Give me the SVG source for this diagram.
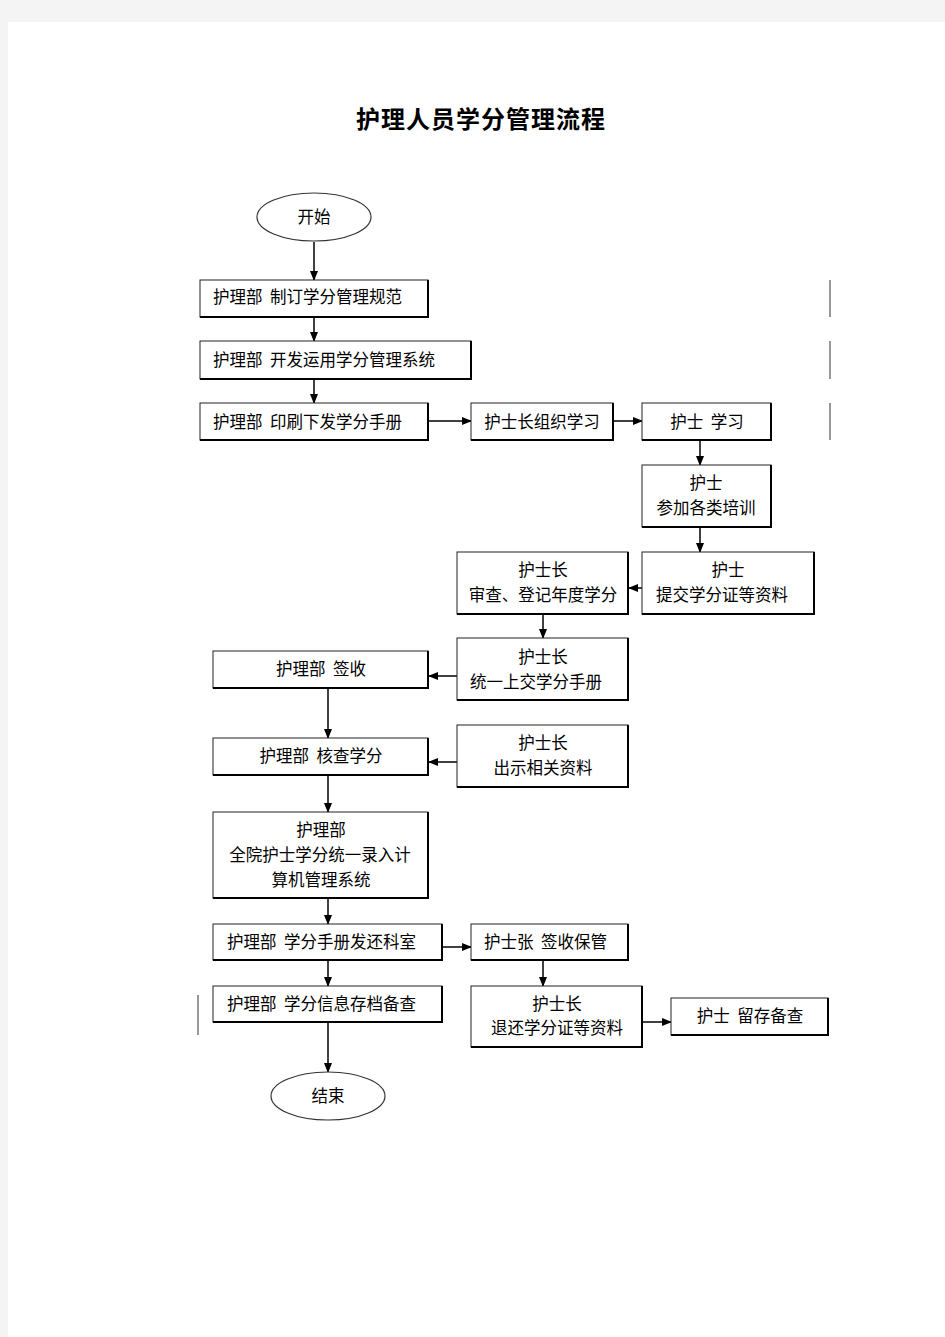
<svg xmlns="http://www.w3.org/2000/svg" width="945" height="1337" viewBox="0 0 945 1337">
<style>
.bx{fill:#fff;stroke:#222;stroke-width:1}
.sh{fill:none;stroke:#000;stroke-width:2}
.t{font-family:"Noto Sans CJK SC","Liberation Sans",sans-serif;font-size:16.5px;fill:#000}
.c{text-anchor:middle}
.ln{fill:none;stroke:#000;stroke-width:1.5}
.el{fill:#fff;stroke:#333;stroke-width:1.2}
.gl{stroke:#777;stroke-width:1.5}
</style>
<defs>
<marker id="ah" markerWidth="10" markerHeight="10" refX="9" refY="5" orient="auto" markerUnits="userSpaceOnUse">
<path d="M0,1 L10,5 L0,9 Z" fill="#000"/>
</marker>
</defs>
<rect x="0" y="0" width="945" height="1337" fill="#f4f4f4"/>
<rect x="8" y="22" width="937" height="1315" fill="#fff"/>
<text x="481" y="128" class="c" style="font-family:'Noto Sans CJK SC',sans-serif;font-size:24px;font-weight:600;letter-spacing:1px">护理人员学分管理流程</text>
<g id="sidelines">
<line x1="830" y1="280" x2="830" y2="317" class="gl"/>
<line x1="830" y1="341" x2="830" y2="379" class="gl"/>
<line x1="830" y1="403" x2="830" y2="440" class="gl"/>
<line x1="198" y1="995" x2="198" y2="1035" class="gl"/>
</g>
<g id="connectors">
<line x1="314" y1="242" x2="314" y2="280" class="ln" marker-end="url(#ah)"/>
<line x1="314" y1="317" x2="314" y2="341" class="ln" marker-end="url(#ah)"/>
<line x1="314" y1="379" x2="314" y2="403" class="ln" marker-end="url(#ah)"/>
<line x1="429" y1="421" x2="471" y2="421" class="ln" marker-end="url(#ah)"/>
<line x1="614" y1="421" x2="642" y2="421" class="ln" marker-end="url(#ah)"/>
<line x1="700" y1="441" x2="700" y2="465" class="ln" marker-end="url(#ah)"/>
<line x1="700" y1="528" x2="700" y2="552" class="ln" marker-end="url(#ah)"/>
<line x1="642" y1="588" x2="629" y2="588" class="ln" marker-end="url(#ah)"/>
<line x1="543" y1="615" x2="543" y2="638" class="ln" marker-end="url(#ah)"/>
<line x1="457" y1="676" x2="429" y2="676" class="ln" marker-end="url(#ah)"/>
<line x1="328" y1="689" x2="328" y2="738" class="ln" marker-end="url(#ah)"/>
<line x1="457" y1="762" x2="429" y2="762" class="ln" marker-end="url(#ah)"/>
<line x1="328" y1="776" x2="328" y2="812" class="ln" marker-end="url(#ah)"/>
<line x1="328" y1="899" x2="328" y2="924" class="ln" marker-end="url(#ah)"/>
<line x1="443" y1="947" x2="471" y2="947" class="ln" marker-end="url(#ah)"/>
<line x1="328" y1="961" x2="328" y2="986" class="ln" marker-end="url(#ah)"/>
<line x1="543" y1="961" x2="543" y2="986" class="ln" marker-end="url(#ah)"/>
<line x1="643" y1="1022" x2="671" y2="1022" class="ln" marker-end="url(#ah)"/>
<line x1="328" y1="1023" x2="328" y2="1072" class="ln" marker-end="url(#ah)"/>
</g>
<g id="start">
<ellipse cx="314" cy="217" rx="57" ry="24" class="el"/>
<text x="314" y="223" class="t c">开始</text>
</g>
<g id="n1">
<rect x="200" y="280" width="228" height="37" class="bx"/>
<path d="M428,280 V317 H200" class="sh"/>
<text x="213" y="303" class="t" xml:space="preserve">护理部  制订学分管理规范</text>
</g>
<g id="n2">
<rect x="200" y="341" width="271" height="38" class="bx"/>
<path d="M471,341 V379 H200" class="sh"/>
<text x="213" y="366" class="t" xml:space="preserve">护理部  开发运用学分管理系统</text>
</g>
<g id="n3">
<rect x="200" y="403" width="228" height="37" class="bx"/>
<path d="M428,403 V440 H200" class="sh"/>
<text x="213" y="428" class="t" xml:space="preserve">护理部  印刷下发学分手册</text>
</g>
<g id="n4">
<rect x="471" y="403" width="142" height="37" class="bx"/>
<path d="M613,403 V440 H471" class="sh"/>
<text x="542" y="428" class="t c">护士长组织学习</text>
</g>
<g id="n5">
<rect x="642" y="403" width="129" height="37" class="bx"/>
<path d="M771,403 V440 H642" class="sh"/>
<text x="707" y="428" class="t c" xml:space="preserve">护士  学习</text>
</g>
<g id="n6">
<rect x="642" y="465" width="129" height="62" class="bx"/>
<path d="M771,465 V527 H642" class="sh"/>
<text x="706" y="489" class="t c">护士</text>
<text x="706" y="514" class="t c">参加各类培训</text>
</g>
<g id="n7">
<rect x="642" y="552" width="172" height="62" class="bx"/>
<path d="M814,552 V614 H642" class="sh"/>
<text x="728" y="576" class="t c">护士</text>
<text x="722" y="601" class="t c">提交学分证等资料</text>
</g>
<g id="n8">
<rect x="457" y="552" width="171" height="62" class="bx"/>
<path d="M628,552 V614 H457" class="sh"/>
<text x="543" y="576" class="t c">护士长</text>
<text x="543" y="601" class="t c">审查、登记年度学分</text>
</g>
<g id="n9">
<rect x="457" y="638" width="171" height="62" class="bx"/>
<path d="M628,638 V700 H457" class="sh"/>
<text x="543" y="663" class="t c">护士长</text>
<text x="536" y="688" class="t c">统一上交学分手册</text>
</g>
<g id="n10">
<rect x="213" y="651" width="215" height="37" class="bx"/>
<path d="M428,651 V688 H213" class="sh"/>
<text x="321" y="675" class="t c" xml:space="preserve">护理部  签收</text>
</g>
<g id="n11">
<rect x="213" y="738" width="215" height="37" class="bx"/>
<path d="M428,738 V775 H213" class="sh"/>
<text x="321" y="762" class="t c" xml:space="preserve">护理部  核查学分</text>
</g>
<g id="n12">
<rect x="457" y="725" width="171" height="62" class="bx"/>
<path d="M628,725 V787 H457" class="sh"/>
<text x="543" y="749" class="t c">护士长</text>
<text x="543" y="774" class="t c">出示相关资料</text>
</g>
<g id="n13">
<rect x="213" y="812" width="215" height="86" class="bx"/>
<path d="M428,812 V898 H213" class="sh"/>
<text x="321" y="836" class="t c">护理部</text>
<text x="320" y="861" class="t c">全院护士学分统一录入计</text>
<text x="321" y="886" class="t c">算机管理系统</text>
</g>
<g id="n14">
<rect x="213" y="924" width="229" height="36" class="bx"/>
<path d="M442,924 V960 H213" class="sh"/>
<text x="227" y="948" class="t" xml:space="preserve">护理部  学分手册发还科室</text>
</g>
<g id="n15">
<rect x="471" y="924" width="157" height="36" class="bx"/>
<path d="M628,924 V960 H471" class="sh"/>
<text x="484" y="948" class="t" xml:space="preserve">护士张  签收保管</text>
</g>
<g id="n16">
<rect x="213" y="986" width="229" height="36" class="bx"/>
<path d="M442,986 V1022 H213" class="sh"/>
<text x="227" y="1010" class="t" xml:space="preserve">护理部  学分信息存档备查</text>
</g>
<g id="n17">
<rect x="471" y="986" width="171" height="61" class="bx"/>
<path d="M642,986 V1047 H471" class="sh"/>
<text x="557" y="1010" class="t c">护士长</text>
<text x="557" y="1034" class="t c">退还学分证等资料</text>
</g>
<g id="n18">
<rect x="671" y="998" width="157" height="37" class="bx"/>
<path d="M828,998 V1035 H671" class="sh"/>
<text x="750" y="1022" class="t c" xml:space="preserve">护士  留存备查</text>
</g>
<g id="end">
<ellipse cx="328" cy="1096" rx="57" ry="24" class="el"/>
<text x="328" y="1102" class="t c">结束</text>
</g>
</svg>
